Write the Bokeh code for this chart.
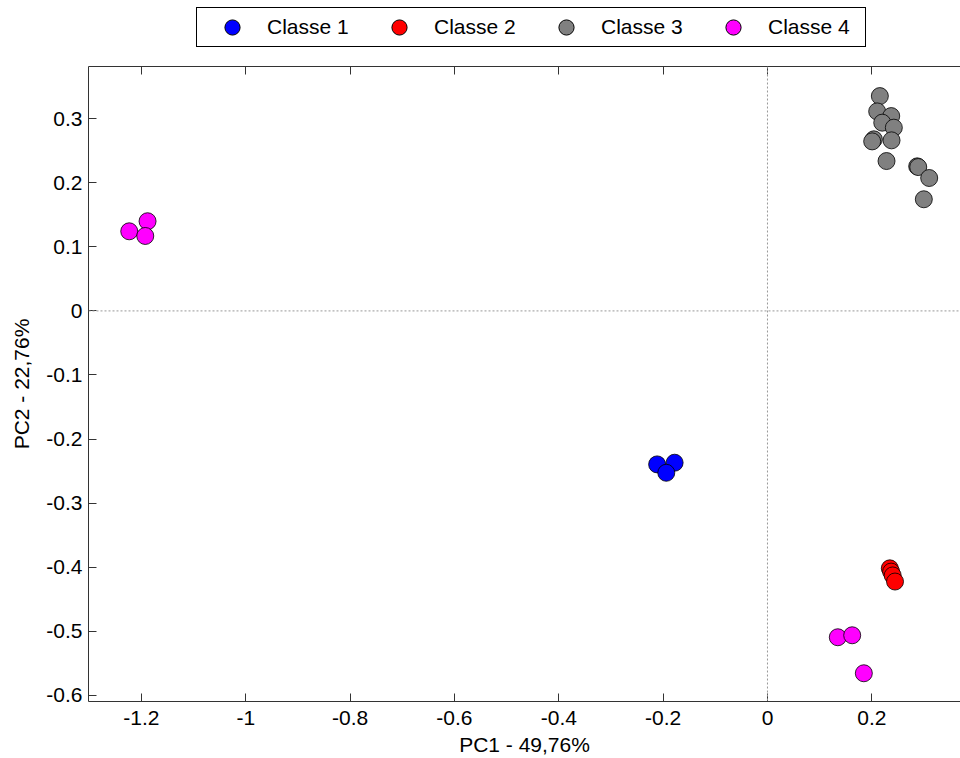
from bokeh.plotting import figure
from bokeh.layouts import column
from bokeh.models import Span, Legend, LegendItem, LinearAxis, FixedTicker, Range1d
from bokeh.embed import file_html
from bokeh.resources import INLINE

# ---- data ----
classe1_x = [-0.2115, -0.178, -0.194]
classe1_y = [-0.2396, -0.237, -0.2527]

classe2_x = [0.2345, 0.237, 0.240, 0.2445]
classe2_y = [-0.4019, -0.407, -0.413, -0.4225]

classe3_x = [0.2154, 0.2103, 0.2372, 0.2200, 0.2422, 0.2039, 0.2007, 0.2378, 0.2282, 0.2870, 0.2890, 0.3100, 0.2997]
classe3_y = [0.3354, 0.3115, 0.3042, 0.2939, 0.2861, 0.2679, 0.2647, 0.2663, 0.2340, 0.2257, 0.2246, 0.2075, 0.1743]

classe4_x = [-1.2234, -1.1883, -1.1927, 0.1348, 0.1624, 0.1847]
classe4_y = [0.1243, 0.1400, 0.1170, -0.5095, -0.5064, -0.5657]

labels = ["Classe 1", "Classe 2", "Classe 3", "Classe 4"]
colors = ["#0000ff", "#ff0000", "#808080", "#ff00ff"]

x_ticks = [-1.2, -1.0, -0.8, -0.6, -0.4, -0.2, 0.0, 0.2]
x_tick_labels = ["-1.2", "-1", "-0.8", "-0.6", "-0.4", "-0.2", "0", "0.2"]
y_ticks = [-0.6, -0.5, -0.4, -0.3, -0.2, -0.1, 0.0, 0.1, 0.2, 0.3]
y_tick_labels = ["-0.6", "-0.5", "-0.4", "-0.3", "-0.2", "-0.1", "0", "0.1", "0.2", "0.3"]

FONT = "Liberation Sans"
FS = "21px"
NAN = float("nan")

# ---- legend strip (top) ----
lg = figure(width=960, height=48, output_backend="svg", toolbar_location=None,
            x_range=Range1d(0, 1), y_range=Range1d(0, 1),
            x_axis_location=None, y_axis_location=None,
            min_border_left=0, min_border_right=0, min_border_top=0, min_border_bottom=0)
lg.outline_line_color = None
lg.grid.visible = False
legend_renderers = []
for c in colors:
    legend_renderers.append(lg.scatter(x=[NAN], y=[NAN], size=17, fill_color=c,
                                       line_color="black", line_width=1))
items = [LegendItem(label=l, renderers=[r]) for l, r in zip(labels, legend_renderers)]
legend = Legend(items=items, orientation="horizontal", location=(108, 1),
                border_line_color="black", border_line_width=1, border_line_alpha=1.0, padding=0,
                glyph_width=70, glyph_height=38, label_standoff=0, label_width=97, spacing=0,
                label_text_font=FONT, label_text_font_size=FS, label_text_color="black",
                background_fill_alpha=1.0, margin=0)
lg.add_layout(legend, "center")

# ---- main plot ----
p = figure(width=960, height=710, output_backend="svg", toolbar_location=None,
           x_range=Range1d(-1.3015, 0.370), y_range=Range1d(-0.6098, 0.3816),
           min_border_left=88, min_border_right=0, min_border_top=18, min_border_bottom=56)
p.outline_line_color = None
p.grid.visible = False
p.background_fill_color = "white"

# zero lines
p.add_layout(Span(location=0, dimension="width", line_color="#999999", line_dash="2 2", line_width=1))
p.add_layout(Span(location=0, dimension="height", line_color="#999999", line_dash="2 2", line_width=1))

for xs, ys, c in [(classe1_x, classe1_y, colors[0]), (classe2_x, classe2_y, colors[1]),
                  (classe3_x, classe3_y, colors[2]), (classe4_x, classe4_y, colors[3])]:
    p.scatter(x=xs, y=ys, size=17, fill_color=c, line_color="black", line_width=1, line_alpha=0.8)

def style_axis(ax, ticks, tick_labels):
    ax.ticker = FixedTicker(ticks=ticks)
    ax.major_label_overrides = {t: l for t, l in zip(ticks, tick_labels)}
    ax.major_tick_in = 8
    ax.major_tick_out = 0
    ax.minor_tick_in = 0
    ax.minor_tick_out = 0
    ax.axis_line_color = "#333333"
    ax.major_tick_line_color = "#333333"
    ax.major_label_text_font = FONT
    ax.major_label_text_font_size = FS
    ax.major_label_text_color = "black"
    ax.axis_label_text_font = FONT
    ax.axis_label_text_font_size = FS
    ax.axis_label_text_font_style = "normal"
    ax.axis_label_text_color = "black"

xa = p.xaxis[0]
style_axis(xa, x_ticks, x_tick_labels)
xa.axis_label = "PC1 - 49,76%"
xa.major_label_standoff = 9
xa.axis_label_standoff = 5

ya = p.yaxis[0]
style_axis(ya, y_ticks, y_tick_labels)
ya.axis_label = "PC2 - 22,76%"
ya.major_label_standoff = 6
ya.axis_label_standoff = 10

top = LinearAxis()
style_axis(top, x_ticks, [""] * len(x_ticks))
top.major_label_text_font_size = "1px"
top.major_label_standoff = 0
p.add_layout(top, "above")

open("out.html", "w").write(file_html(column(lg, p, spacing=0), INLINE))
